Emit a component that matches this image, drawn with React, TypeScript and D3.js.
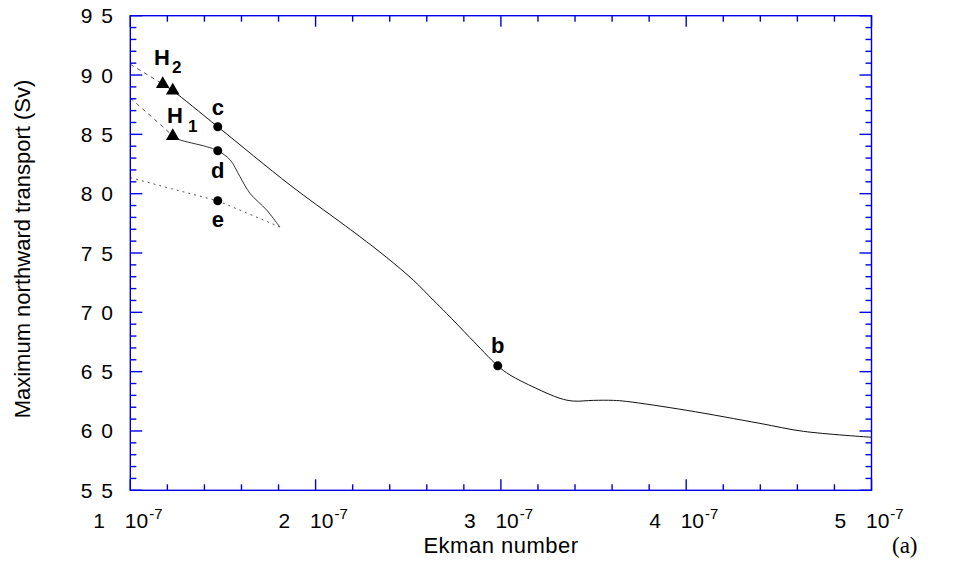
import React from "react";
import * as d3 from "d3";

// x in units of 1e-7 (Ekman number), y in Sv
const mainBranchX = [1.175, 1.229, 1.472, 1.862, 2.131, 2.239, 2.384, 2.527, 2.635, 2.707, 2.833, 2.983, 3.049, 3.184, 3.319, 3.391, 3.499, 3.607, 3.679, 4.003, 4.398, 4.632, 5.0];
const mainBranchY = [89.24, 88.68, 85.64, 80.73, 77.63, 76.38, 74.62, 72.72, 71.03, 69.91, 67.87, 65.49, 64.72, 63.64, 62.75, 62.52, 62.58, 62.58, 62.49, 61.74, 60.64, 59.97, 59.47];

const upperDashedX = [1.0, 1.175];
const upperDashedY = [90.9, 89.24];

const lowerDashedX = [1.0, 1.176, 1.229];
const lowerDashedY = [88.06, 85.64, 84.86];

const dBranchX = [1.229, 1.259, 1.412, 1.472, 1.539, 1.592, 1.646, 1.736, 1.799, 1.808];
const dBranchY = [84.86, 84.58, 83.96, 83.62, 82.84, 81.43, 80.03, 78.62, 77.36, 77.19];

const eBranchX = [1.0, 1.221, 1.472, 1.808];
const eBranchY = [81.35, 80.42, 79.40, 77.19];

const triangleX = [1.175, 1.229, 1.229];
const triangleY = [89.24, 88.68, 84.86];

const pointNames = ["c", "d", "e", "b"];
const pointX = [1.472, 1.472, 1.472, 2.983];
const pointY = [85.64, 83.62, 79.40, 65.49];

const xMajorTicks = [1, 2, 3, 4, 5];
const yMajorTicks = [55, 60, 65, 70, 75, 80, 85, 90, 95];

const W = 955;
const H = 580;
const left = 130.3, right = 871.5, top = 15.7, bottom = 490.3;
const AXIS = "#0000e6";

export default function App() {
  const x = d3.scaleLinear().domain([1, 5]).range([left, right]);
  const y = d3.scaleLinear().domain([55, 95]).range([bottom, top]);
  const line = d3.line<[number, number]>().x(d => x(d[0])).y(d => y(d[1]));
  const smooth = d3.line<[number, number]>().x(d => x(d[0])).y(d => y(d[1])).curve(d3.curveCatmullRom.alpha(0.5));
  const zip = (a: number[], b: number[]) => a.map((v, i) => [v, b[i]] as [number, number]);

  const xMinor = d3.range(1, 5.0001, 0.2).filter(v => Math.abs(v - Math.round(v)) > 1e-6);
  const yMinor = d3.range(55, 95.0001, 1).filter(v => Math.round(v) % 5 !== 0);
  const tri = d3.symbol().type(d3.symbolTriangle).size(80)()!;

  const labelPos: Record<string, [number, number]> = {
    c: [0, -12], d: [0, 27], e: [0, 26], b: [0, -13],
  };

  return (
    <svg width={W} height={H} style={{ position: "absolute", left: 0, top: 0, background: "#fff" }}
      fontFamily="'Liberation Sans', Arial, Helvetica, sans-serif">
      {/* curves */}
      <path d={line(zip(upperDashedX, upperDashedY))!} fill="none" stroke="#555" strokeWidth={1} strokeDasharray="4,4" />
      <path d={line(zip(lowerDashedX, lowerDashedY))!} fill="none" stroke="#555" strokeWidth={1} strokeDasharray="4,4" />
      <path d={line(zip(eBranchX, eBranchY))!} fill="none" stroke="#555" strokeWidth={1} strokeDasharray="2,4" />
      <path d={smooth(zip(dBranchX, dBranchY))!} fill="none" stroke="#333" strokeWidth={1} />
      <path d={smooth(zip(mainBranchX, mainBranchY))!} fill="none" stroke="#111" strokeWidth={1} />

      {/* markers */}
      {triangleX.map((v, i) => (
        <path key={"t" + i} d={tri} transform={`translate(${x(v)},${y(triangleY[i])})`} fill="#000" />
      ))}
      {pointX.map((v, i) => (
        <circle key={"p" + i} cx={x(v)} cy={y(pointY[i])} r={4.5} fill="#000" />
      ))}
      {pointNames.map((n, i) => (
        <text key={"l" + i} x={x(pointX[i]) + labelPos[n][0]} y={y(pointY[i]) + labelPos[n][1]}
          textAnchor="middle" fontWeight="bold" fontSize={22}>{n}</text>
      ))}
      <text x={154} y={65} fontWeight="bold" fontSize={22}>H<tspan dx={2} dy={8} fontSize={17}>2</tspan></text>
      <text x={167} y={123} fontWeight="bold" fontSize={22}>H<tspan dx={5} dy={9} fontSize={17}>1</tspan></text>

      {/* frame */}
      <rect x={left} y={top} width={right - left} height={bottom - top} fill="none" stroke={AXIS} strokeWidth={1.4} />
      {xMajorTicks.map(v => (
        <g key={"xm" + v} stroke={AXIS} strokeWidth={1.4}>
          <line x1={x(v)} x2={x(v)} y1={bottom} y2={bottom - 11} />
          <line x1={x(v)} x2={x(v)} y1={top} y2={top + 11} />
        </g>
      ))}
      {xMinor.map(v => (
        <g key={"xn" + v} stroke={AXIS} strokeWidth={1.4}>
          <line x1={x(v)} x2={x(v)} y1={bottom} y2={bottom - 6} />
          <line x1={x(v)} x2={x(v)} y1={top} y2={top + 6} />
        </g>
      ))}
      {yMajorTicks.map(v => (
        <g key={"ym" + v} stroke={AXIS} strokeWidth={1.4}>
          <line x1={left} x2={left + 12} y1={y(v)} y2={y(v)} />
          <line x1={right} x2={right - 12} y1={y(v)} y2={y(v)} />
        </g>
      ))}
      {yMinor.map(v => (
        <g key={"yn" + v} stroke={AXIS} strokeWidth={1.4}>
          <line x1={left} x2={left + 6} y1={y(v)} y2={y(v)} />
          <line x1={right} x2={right - 6} y1={y(v)} y2={y(v)} />
        </g>
      ))}

      {/* tick labels */}
      {yMajorTicks.map(v => (
        <text key={"yl" + v} x={122} y={y(v) + 7.5} textAnchor="end" fontSize={21} letterSpacing={9} fill="#000">
          {String(v)}
        </text>
      ))}
      {xMajorTicks.map(v => (
        <g key={"xl" + v} fontSize={21} fill="#000">
          <text x={x(v) - 37} y={528}>{String(v)}</text>
          <text x={x(v) - 5.5} y={528}>10<tspan dx={1} dy={-9} fontSize={15}>-7</tspan></text>
        </g>
      ))}

      {/* axis titles */}
      <text x={501} y={553} textAnchor="middle" fontSize={22} letterSpacing={0.5} fill="#000">Ekman number</text>
      <text transform={`translate(30,249) rotate(-90)`} textAnchor="middle" fontSize={22} fill="#000">
        Maximum northward transport (Sv)
      </text>
      <text x={892} y={553} fontSize={23} fontFamily="'Liberation Serif', 'Times New Roman', serif" fill="#000">(a)</text>
    </svg>
  );
}
